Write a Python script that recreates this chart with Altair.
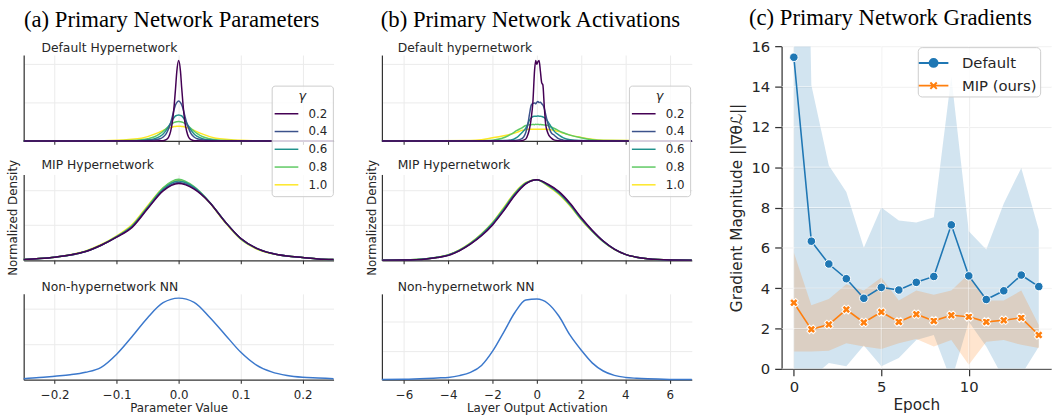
import altair as alt
import pandas as pd

TEXT = "#262626"
SPINE = "#333333"
GRID = "#ebebeb"

# ---------------- categories ----------------
gammas = ["0.2", "0.4", "0.6", "0.8", "1.0"]
viridis5 = ["#440154", "#3b528b", "#21918c", "#5ec962", "#fde725"]
nn_blue = "#3b78cc"

# ---------------- (a) Primary Network Parameters ----------------
a_ticks = [-0.2, -0.1, 0.0, 0.1, 0.2]

a_def_x = [-0.25, -0.12, -0.1, -0.08, -0.06, -0.05, -0.04, -0.03, -0.025, -0.02, -0.016, -0.013,
           -0.01, -0.007, -0.005, -0.003, 0.0, 0.003, 0.005, 0.007, 0.01, 0.013, 0.016, 0.02,
           0.025, 0.03, 0.04, 0.05, 0.06, 0.08, 0.1, 0.12, 0.25]
a_def_g02 = [0, 0, 0, 0, 0, 0, 0, 0.002, 0.006, 0.03, 0.1, 0.24, 0.5, 0.95, 1.35, 1.78, 2.08,
             1.8, 1.36, 0.96, 0.5, 0.25, 0.1, 0.03, 0.006, 0.002, 0, 0, 0, 0, 0, 0, 0]
a_def_g04 = [0, 0, 0.001, 0.002, 0.005, 0.01, 0.025, 0.055, 0.1, 0.19, 0.32, 0.46, 0.64, 0.83,
             0.93, 0.99, 1.03, 0.99, 0.93, 0.84, 0.65, 0.47, 0.33, 0.19, 0.1, 0.055, 0.025, 0.01,
             0.005, 0.002, 0.001, 0, 0]
a_def_g06 = [0, 0.001, 0.002, 0.004, 0.012, 0.027, 0.05, 0.115, 0.18, 0.28, 0.38, 0.46, 0.54,
             0.61, 0.645, 0.66, 0.67, 0.66, 0.645, 0.61, 0.54, 0.46, 0.38, 0.28, 0.18, 0.115,
             0.05, 0.027, 0.012, 0.004, 0.002, 0.001, 0]
a_def_g08 = [0, 0.002, 0.004, 0.01, 0.03, 0.055, 0.1, 0.19, 0.25, 0.32, 0.38, 0.42, 0.455, 0.48,
             0.49, 0.497, 0.5, 0.497, 0.49, 0.48, 0.455, 0.42, 0.38, 0.32, 0.25, 0.19, 0.1,
             0.055, 0.03, 0.01, 0.004, 0.002, 0]
a_def_g10 = [0, 0.006, 0.015, 0.035, 0.07, 0.11, 0.17, 0.235, 0.27, 0.305, 0.33, 0.345, 0.36,
             0.37, 0.375, 0.378, 0.38, 0.378, 0.375, 0.37, 0.36, 0.345, 0.33, 0.305, 0.27, 0.235,
             0.17, 0.11, 0.07, 0.035, 0.015, 0.006, 0]

a_mip_x = [-0.25, -0.225, -0.2, -0.175, -0.15, -0.125, -0.1, -0.075, -0.05, -0.025, 0.0, 0.025,
           0.05, 0.075, 0.1, 0.125, 0.15, 0.175, 0.2, 0.225, 0.25]
a_mip_g02 = [0.02, 0.05, 0.09, 0.15, 0.25, 0.43, 0.66, 0.94, 1.47, 1.98, 2.19, 2.03, 1.65, 1.1,
             0.63, 0.35, 0.2, 0.12, 0.08, 0.04, 0.02]
a_mip_g04 = [0.02, 0.05, 0.09, 0.15, 0.25, 0.43, 0.67, 0.96, 1.49, 2.0, 2.22, 2.05, 1.65, 1.1,
             0.63, 0.35, 0.2, 0.12, 0.08, 0.04, 0.02]
a_mip_g06 = [0.02, 0.05, 0.09, 0.15, 0.25, 0.43, 0.67, 0.97, 1.5, 2.03, 2.26, 2.08, 1.66, 1.1,
             0.62, 0.35, 0.2, 0.12, 0.08, 0.04, 0.02]
a_mip_g08 = [0.02, 0.05, 0.09, 0.15, 0.26, 0.44, 0.68, 0.99, 1.53, 2.07, 2.31, 2.1, 1.66, 1.1,
             0.62, 0.34, 0.19, 0.12, 0.08, 0.04, 0.02]
a_mip_g10 = [0.02, 0.05, 0.09, 0.16, 0.27, 0.45, 0.7, 1.02, 1.56, 2.07, 2.28, 2.08, 1.64, 1.08,
             0.6, 0.33, 0.19, 0.12, 0.08, 0.04, 0.02]

a_nn = [0.03, 0.06, 0.1, 0.14, 0.21, 0.35, 0.72, 1.22, 1.75, 2.17, 2.3, 2.18, 1.76, 1.27, 0.78,
        0.42, 0.22, 0.12, 0.07, 0.05, 0.03]

# ---------------- (b) Primary Network Activations ----------------
b_ticks = [-6, -4, -2, 0, 2, 4, 6]

b_def_x = [-7, -3, -2.5, -2, -1.6, -1.2, -0.9, -0.7, -0.5, -0.4, -0.33, -0.25, -0.18, -0.1,
           -0.05, 0, 0.05, 0.1, 0.16, 0.22, 0.27, 0.34, 0.4, 0.5, 0.64, 0.8, 1.0, 1.2, 1.5, 2.0,
           2.5, 3.0, 7]
b_def_g02 = [0, 0, 0, 0, 0, 0, 0, 0.005, 0.05, 0.17, 0.32, 0.6, 1.0, 1.85, 2.08, 1.98, 2.05,
             2.08, 1.8, 1.5, 1.45, 0.85, 0.42, 0.2, 0.08, 0.02, 0.005, 0, 0, 0, 0, 0, 0]
b_def_g04 = [0, 0, 0, 0.002, 0.005, 0.01, 0.02, 0.05, 0.22, 0.45, 0.7, 0.93, 0.97, 0.98, 0.96,
             1.0, 1.02, 0.99, 1.0, 0.96, 0.93, 0.83, 0.68, 0.45, 0.22, 0.14, 0.05, 0.02, 0.008,
             0.002, 0, 0, 0]
b_def_g06 = [0, 0, 0.001, 0.003, 0.008, 0.02, 0.09, 0.2, 0.33, 0.45, 0.54, 0.6, 0.63, 0.64,
             0.64, 0.64, 0.645, 0.64, 0.64, 0.63, 0.62, 0.6, 0.57, 0.5, 0.37, 0.24, 0.15, 0.08,
             0.03, 0.008, 0.002, 0, 0]
b_def_g08 = [0, 0.002, 0.006, 0.02, 0.06, 0.16, 0.27, 0.33, 0.4, 0.41, 0.415, 0.42, 0.425, 0.42,
             0.43, 0.425, 0.43, 0.42, 0.425, 0.42, 0.42, 0.41, 0.41, 0.4, 0.36, 0.32, 0.26, 0.21,
             0.15, 0.08, 0.03, 0.01, 0]
b_def_g10 = [0, 0.01, 0.03, 0.08, 0.12, 0.17, 0.22, 0.27, 0.29, 0.3, 0.3, 0.3, 0.3, 0.3, 0.3,
             0.3, 0.3, 0.3, 0.3, 0.3, 0.3, 0.3, 0.3, 0.295, 0.29, 0.27, 0.24, 0.2, 0.15, 0.09,
             0.04, 0.015, 0]

b_mip_x = [-7, -6, -5, -4.5, -4, -3.5, -3, -2.5, -2, -1.5, -1, -0.5, 0, 0.5, 1, 1.5, 2, 2.5, 3,
           3.5, 4, 4.5, 5, 6, 7]
b_mip_g02 = [0.005, 0.01, 0.04, 0.08, 0.14, 0.27, 0.46, 0.7, 1.01, 1.41, 1.85, 2.18, 2.3, 2.17,
             1.96, 1.63, 1.22, 0.86, 0.55, 0.32, 0.17, 0.09, 0.045, 0.01, 0.005]
b_mip_g04 = [0.005, 0.01, 0.04, 0.08, 0.145, 0.28, 0.47, 0.72, 1.03, 1.43, 1.87, 2.19, 2.3, 2.16,
             1.94, 1.61, 1.2, 0.85, 0.55, 0.32, 0.17, 0.09, 0.045, 0.01, 0.005]
b_mip_g06 = [0.005, 0.011, 0.042, 0.085, 0.15, 0.285, 0.48, 0.73, 1.05, 1.45, 1.89, 2.2, 2.3,
             2.15, 1.92, 1.59, 1.19, 0.84, 0.54, 0.32, 0.17, 0.09, 0.045, 0.01, 0.005]
b_mip_g08 = [0.005, 0.012, 0.044, 0.088, 0.155, 0.29, 0.49, 0.75, 1.07, 1.48, 1.91, 2.21, 2.3,
             2.13, 1.9, 1.57, 1.17, 0.83, 0.53, 0.31, 0.17, 0.09, 0.045, 0.01, 0.005]
b_mip_g10 = [0.005, 0.012, 0.045, 0.09, 0.16, 0.3, 0.5, 0.76, 1.08, 1.5, 1.93, 2.22, 2.3, 2.12,
             1.88, 1.55, 1.16, 0.82, 0.53, 0.31, 0.17, 0.09, 0.045, 0.01, 0.005]

b_nn = [0.01, 0.015, 0.04, 0.06, 0.08, 0.14, 0.25, 0.49, 0.98, 1.63, 2.3, 2.74, 2.77, 2.62, 2.18,
        1.53, 1.02, 0.58, 0.3, 0.15, 0.08, 0.05, 0.03, 0.01, 0.005]

# ---------------- (c) Primary Network Gradients ----------------
series_names = ["Default", "MIP (ours)"]
series_colors = ["#1f77b4", "#ff7f0e"]
epochs = list(range(15))
default_mean = [15.45, 6.33, 5.2, 4.47, 3.5, 4.04, 3.91, 4.29, 4.58, 7.14, 4.61, 3.44, 3.87, 4.65, 4.08]
default_hi = [60.0, 14.07, 10.08, 8.77, 6.0, 8.0, 7.35, 7.26, 7.52, 14.5, 6.82, 5.92, 8.2, 9.96, 6.9]
default_lo = [-3.0, -0.45, 0.29, 0.13, 1.16, 0.13, 0.54, 1.43, 1.68, -0.6, 2.33, 1.11, -0.5, -0.3, 1.1]
mip_mean = [3.28, 1.96, 2.2, 2.94, 2.3, 2.82, 2.33, 2.71, 2.38, 2.66, 2.58, 2.33, 2.41, 2.53, 1.68]
mip_hi = [5.77, 3.15, 3.47, 4.2, 3.88, 4.53, 3.39, 3.88, 3.67, 3.88, 4.7, 3.39, 3.39, 3.88, 2.17]
mip_lo = [0.86, 0.86, 0.9, 1.27, 1.11, 0.98, 1.27, 1.48, 1.11, 1.43, 0.21, 1.35, 1.43, 1.19, 1.03]
c_xticks = [0, 5, 10]
c_yticks = [0, 2, 4, 6, 8, 10, 12, 14, 16]


# ======================================================================
LINE_PATH = "M-1.364,0L1.364,0"


def gamma_legend(lx, ly):
    return alt.Legend(
        title="γ", orient="none", legendX=lx, legendY=ly, direction="vertical",
        titleFontStyle="italic", titleFontWeight="normal", titleFontSize=13, titleColor=TEXT,
        titleFont="DejaVu Sans", titleAnchor="middle", titlePadding=0.5,
        labelFontSize=12, labelColor=TEXT, labelFont="DejaVu Sans", labelOffset=12.2,
        symbolType=LINE_PATH, symbolSize=310, symbolStrokeWidth=1.5,
        rowPadding=2, padding=5, fillColor="rgba(255,255,255,0.8)",
        strokeColor="#cccccc", cornerRadius=3,
    )


def density(xs, curves, xdom, xticks, ytop, sub_title, dx, bottom, fmt,
            xtitle=None, ytitle=None, ytitle_pad=4, legend=None, single_color=None,
            title_offset=-9.5):
    rows = []
    for name, vals in curves:
        for xv, dv in zip(xs, vals):
            rows.append({"x": xv, "d": dv, "g": name})
    df = pd.DataFrame(rows)
    xa = dict(values=xticks, grid=True, gridColor=GRID, domainColor=SPINE, domainWidth=1.25,
              tickColor=SPINE, tickWidth=1.1, tickSize=3.5, labelFlush=False)
    if bottom:
        xa.update(labels=True,
                  labelExpr="replace(format(datum.value, '%s'), '-', '\u2212')" % fmt,
                  labelFontSize=12, labelColor=TEXT, labelPadding=6.5, labelOverlap=False,
                  title=xtitle, titleFontSize=12, titleFontWeight="normal", titleColor=TEXT,
                  titlePadding=2)
    else:
        xa.update(labels=False, title=None)
    ya = dict(values=[1, 2], labels=False, ticks=False, grid=True, gridColor=GRID,
              domainColor=SPINE, domainWidth=1.25)
    if ytitle:
        ya.update(title=ytitle, titleFontSize=12, titleFontWeight="normal", titleColor=TEXT,
                  titlePadding=ytitle_pad)
    else:
        ya.update(title=None)
    if single_color:
        color = alt.value(single_color)
    else:
        color = alt.Color("g:N", scale=alt.Scale(domain=gammas, range=viridis5), legend=legend)
    return alt.Chart(df).mark_line(strokeWidth=1.5, interpolate="monotone").encode(
        x=alt.X("x:Q", scale=alt.Scale(domain=xdom, nice=False, zero=False), axis=alt.Axis(**xa)),
        y=alt.Y("d:Q", scale=alt.Scale(domain=[0, ytop], nice=False), axis=alt.Axis(**ya)),
        color=color,
    ).properties(
        width=314, height=87,
        title=alt.TitleParams(sub_title, anchor="start", frame="group", dx=dx, fontSize=12.5,
                              fontWeight="normal", color=TEXT, font="DejaVu Sans",
                              baseline="alphabetic", offset=title_offset),
    )


def big_title(text, offset, frame="bounds"):
    return alt.TitleParams(text, font="Liberation Serif", fontSize=23, fontWeight="normal",
                           color="black", anchor="middle", offset=offset, frame=frame)


# ----- column (a)
a1 = density(a_def_x, [("1.0", a_def_g10), ("0.8", a_def_g08), ("0.6", a_def_g06),
                       ("0.4", a_def_g04), ("0.2", a_def_g02)],
             [-0.25, 0.25], a_ticks, 2.22, "Default Hypernetwork", 18, False, ".1f")
a2 = density(a_mip_x, [("1.0", a_mip_g10), ("0.8", a_mip_g08), ("0.6", a_mip_g06),
                       ("0.4", a_mip_g04), ("0.2", a_mip_g02)],
             [-0.25, 0.25], a_ticks, 2.45, "MIP Hypernetwork", 18, False, ".1f",
             ytitle="Normalized Density", ytitle_pad=4, legend=gamma_legend(251.3, -90),
             title_offset=-97.5)
a3 = density(a_mip_x, [("nn", a_nn)], [-0.25, 0.25], a_ticks, 2.42, "Non-hypernetwork NN", 18,
             True, ".1f", xtitle="Parameter Value", single_color=nn_blue)
col_a = alt.vconcat(a1, a2, a3, spacing=34, bounds="flush",
                    title=big_title("(a) Primary Network Parameters", 10)
                    ).resolve_scale(color="independent")

# ----- column (b)
b1 = density(b_def_x, [("1.0", b_def_g10), ("0.8", b_def_g08), ("0.6", b_def_g06),
                       ("0.4", b_def_g04), ("0.2", b_def_g02)],
             [-7, 7], b_ticks, 2.22, "Default hypernetwork", 16, False, "d")
b2 = density(b_mip_x, [("1.0", b_mip_g10), ("0.8", b_mip_g08), ("0.6", b_mip_g06),
                       ("0.4", b_mip_g04), ("0.2", b_mip_g02)],
             [-7, 7], b_ticks, 2.45, "MIP Hypernetwork", 16, False, "d",
             ytitle="Normalized Density", ytitle_pad=3, legend=gamma_legend(250.3, -90),
             title_offset=-97.5)
b3 = density(b_mip_x, [("nn", b_nn)], [-7, 7], b_ticks, 2.95, "Non-hypernetwork NN", 16,
             True, "d", xtitle="Layer Output Activation", single_color=nn_blue)
col_b = alt.vconcat(b1, b2, b3, spacing=34, bounds="flush",
                    title=big_title("(b) Primary Network Activations", 10)
                    ).resolve_scale(color="independent")

# ----- column (c)
c_rows = []
for name, mean, lo, hi in [("Default", default_mean, default_lo, default_hi),
                           ("MIP (ours)", mip_mean, mip_lo, mip_hi)]:
    for e, m, l, h in zip(epochs, mean, lo, hi):
        c_rows.append({"epoch": e, "series": name, "mean": m, "lo": l, "hi": h})
df_c = pd.DataFrame(c_rows)
hgrid_df = pd.DataFrame({"v": c_yticks})
vgrid_df = pd.DataFrame({"v": c_xticks})

x_c_scale = alt.Scale(domain=[-0.7, 14.7], nice=False, zero=False)
y_c_scale = alt.Scale(domain=[0, 16], nice=False)
x_c_axis = alt.Axis(values=c_xticks, title="Epoch", grid=True, gridColor=GRID,
                    domainColor=SPINE, domainWidth=1.25, tickColor=SPINE, tickWidth=1.25,
                    tickSize=7, labelFontSize=15, labelColor=TEXT, labelPadding=3.7,
                    labelFlush=False, titleFontSize=15.5, titleFontWeight="normal",
                    titleColor=TEXT, titlePadding=3.3)
y_c_axis = alt.Axis(values=c_yticks, title="Gradient Magnitude ||∇θℒ||", grid=True,
                    gridColor=GRID, domainColor=SPINE, domainWidth=1.25, tickColor=SPINE,
                    tickWidth=1.25, tickSize=7, labelFontSize=15, labelColor=TEXT,
                    labelPadding=5, labelFlush=False, titleFontSize=15.5,
                    titleFontWeight="normal", titleColor=TEXT, titlePadding=7)
X_C = alt.X("epoch:Q", scale=x_c_scale, axis=x_c_axis)
Y_MEAN = alt.Y("mean:Q", scale=y_c_scale, axis=y_c_axis)

PATH_CIRCLE = ("M-1.25,0L1.25,0"
               "M0.333,0A0.333,0.333,0,1,1,-0.333,0A0.333,0.333,0,1,1,0.333,0"
               "M0.18,0A0.18,0.18,0,1,1,-0.18,0A0.18,0.18,0,1,1,0.18,0"
               "M0.05,0A0.05,0.05,0,1,1,-0.05,0A0.05,0.05,0,1,1,0.05,0")
PATH_X = "M-1.25,0L1.25,0M-0.27,-0.27L0.27,0.27M-0.27,0.27L0.27,-0.27"

leg_c = alt.Legend(title=None, orient="none", legendX=138, legendY=1,
                   fillColor="rgba(255,255,255,0.8)", strokeColor="#cccccc", cornerRadius=4,
                   padding=3, symbolSize=576, symbolStrokeWidth=2, symbolOpacity=1,
                   labelFontSize=15, labelFont="DejaVu Sans", labelColor=TEXT,
                   labelOffset=15.7, rowPadding=2)

is_def = alt.datum.series == "Default"
is_mip = alt.datum.series == "MIP (ours)"

band_def = alt.Chart(df_c).transform_filter(is_def).mark_area(
    opacity=0.2, clip=True, color=series_colors[0]).encode(
    x=X_C, y=alt.Y("lo:Q", scale=y_c_scale, axis=y_c_axis), y2="hi:Q")
band_mip = alt.Chart(df_c).transform_filter(is_mip).mark_area(
    opacity=0.2, clip=True, color=series_colors[1]).encode(
    x=X_C, y=alt.Y("lo:Q", scale=y_c_scale, axis=y_c_axis), y2="hi:Q")
rules_h = alt.Chart(hgrid_df).mark_rule(color="white", opacity=0.6, strokeWidth=1).encode(
    y=alt.Y("v:Q", scale=y_c_scale, axis=y_c_axis))
rules_v = alt.Chart(vgrid_df).mark_rule(color="white", opacity=0.6, strokeWidth=1).encode(
    x=alt.X("v:Q", scale=x_c_scale, axis=x_c_axis))
line_def = alt.Chart(df_c).transform_filter(is_def).mark_line(
    strokeWidth=1.6, color=series_colors[0]).encode(x=X_C, y=Y_MEAN)
line_mip = alt.Chart(df_c).transform_filter(is_mip).mark_line(
    strokeWidth=1.6, color=series_colors[1]).encode(x=X_C, y=Y_MEAN)
pts_def = alt.Chart(df_c).transform_filter(is_def).mark_point(
    shape="circle", filled=True, size=75, fill=series_colors[0], stroke="white",
    strokeWidth=1, opacity=1).encode(x=X_C, y=Y_MEAN)
pts_mip = alt.Chart(df_c).transform_filter(is_mip).mark_point(
    shape="cross", angle=45, filled=True, size=80, fill=series_colors[1], stroke="white",
    strokeWidth=1, opacity=1).encode(x=X_C, y=Y_MEAN)
legend_layer = alt.Chart(df_c).mark_point(filled=False, opacity=0, strokeWidth=2, size=100).encode(
    x=X_C, y=Y_MEAN,
    color=alt.Color("series:N", scale=alt.Scale(domain=series_names, range=series_colors),
                    legend=leg_c),
    shape=alt.Shape("series:N", scale=alt.Scale(domain=series_names, range=[PATH_CIRCLE, PATH_X]),
                    legend=leg_c),
)
col_c = alt.layer(band_def, band_mip, rules_h, rules_v, line_def, line_mip, pts_def, pts_mip,
                  legend_layer).properties(
    width=273, height=327, title=big_title("(c) Primary Network Gradients", 9))

# ----- assembly: a/b block sits 9 px lower than panel (c)'s plot top
ab = alt.hconcat(col_a, col_b, spacing=28).resolve_scale(color="independent")
spacer = alt.Chart(pd.DataFrame({"s": [0]})).mark_point(opacity=0).encode(
    x=alt.value(0), y=alt.value(0)).properties(width=1, height=1)
left_block = alt.vconcat(spacer, ab, spacing=8, bounds="flush").resolve_scale(color="independent")
chart = alt.hconcat(left_block, col_c, spacing=33).resolve_scale(color="independent",
                                                                 shape="independent")
chart = chart.properties(padding={"left": 6, "top": 4, "right": 0, "bottom": 0},
                         background="white")
chart = chart.configure(font="DejaVu Sans").configure_view(stroke="transparent")

chart.save("out.html", embed_options={"renderer": "svg", "actions": False})
